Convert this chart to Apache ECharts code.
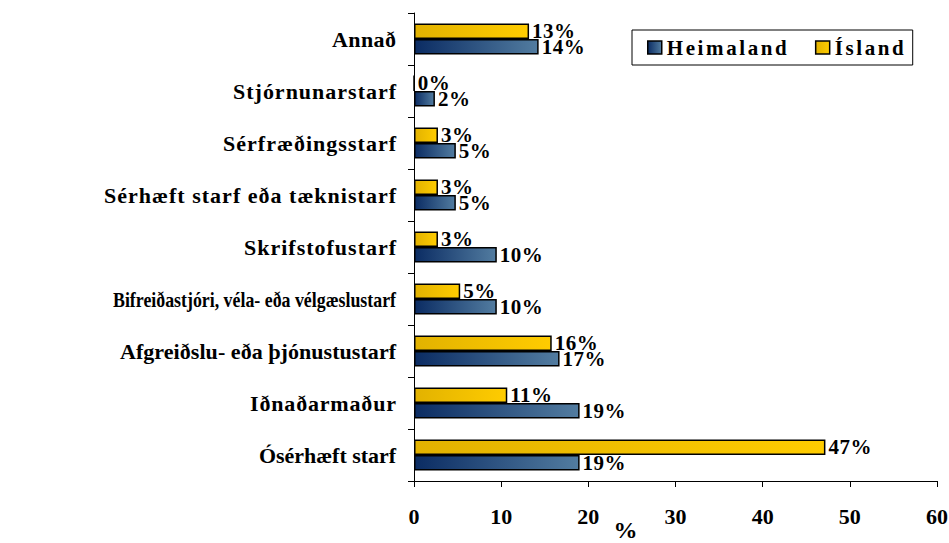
<!DOCTYPE html>
<html><head><meta charset="utf-8">
<script src="https://cdn.jsdelivr.net/npm/echarts@6/dist/echarts.min.js"></script>
<style>html,body{margin:0;padding:0;background:#fff}#c{width:949px;height:543px}</style>
</head><body><div id="c"></div>
<script>
const categories = ['Ósérhæft starf','Iðnaðarmaður','Afgreiðslu- eða þjónustustarf','Bifreiðastjóri, véla- eða vélgæslustarf','Skrifstofustarf','Sérhæft starf eða tæknistarf','Sérfræðingsstarf','Stjórnunarstarf','Annað'];
const heimaland = [19.0, 19.0, 16.7, 9.5, 9.5, 4.8, 4.8, 2.4, 14.3];
const island = [47.2, 10.7, 15.8, 5.3, 2.75, 2.75, 2.75, 0, 13.2];
const xTicks = [0,10,20,30,40,50,60];

// text widths in the reference (styling only)
const textWidths = {
  'Ósérhæft starf':137,'Iðnaðarmaður':146,'Afgreiðslu- eða þjónustustarf':276,
  'Bifreiðastjóri, véla- eða vélgæslustarf':283,'Skrifstofustarf':152,
  'Sérhæft starf eða tæknistarf':292,'Sérfræðingsstarf':173,'Stjórnunarstarf':163,'Annað':64,
  'Heimaland':120,'Ísland':69
};

const font = 'Liberation Serif';
const blueGrad = new echarts.graphic.LinearGradient(0,0,1,0,[{offset:0,color:'#0b2c63'},{offset:1,color:'#527ca0'}]);
const yellowGrad = new echarts.graphic.LinearGradient(0,0,1,0,[{offset:0,color:'#e2b200'},{offset:1,color:'#ffcc00'}]);
const lbl = {show:true,position:'right',distance:3,color:'#000',fontFamily:font,fontWeight:'bold',fontSize:21,formatter:p=>Math.round(p.value)+'%'};

const chart = echarts.init(document.getElementById('c'), null, {renderer:'svg'});
chart.setOption({
  animation:false,
  grid:{left:414,right:12,top:13,bottom:62,outerBoundsMode:'none',containLabel:false},
  legend:{
    left:632,top:30,padding:[7,22,7,15],
    backgroundColor:'#fff',borderColor:'#000',borderWidth:1,borderRadius:0,
    itemWidth:14,itemHeight:13,itemGap:49,
    textStyle:{fontFamily:font,fontWeight:'bold',fontSize:21,color:'#000'},
    data:[{name:'Heimaland',icon:'rect',itemStyle:{color:blueGrad,borderColor:'#000',borderWidth:1.5}},
          {name:'Ísland',icon:'rect',itemStyle:{color:yellowGrad,borderColor:'#000',borderWidth:1.5}}]
  },
  xAxis:{
    type:'value',min:0,max:60,interval:10,
    name:'%',nameLocation:'middle',nameGap:37,nameMoveOverlap:false,
    nameTextStyle:{fontFamily:font,fontWeight:'bold',fontSize:24,color:'#000',padding:[0,100,0,0]},
    axisLine:{show:true,lineStyle:{color:'#000',width:1}},
    axisTick:{show:true,length:6,lineStyle:{color:'#000'}},
    splitLine:{show:false},
    axisLabel:{margin:24,fontFamily:font,fontWeight:'bold',fontSize:22,color:'#000',formatter:v=>xTicks.includes(v)?String(v):''}
  },
  yAxis:{
    type:'category',data:categories,
    axisLine:{show:true,lineStyle:{color:'#000',width:1}},
    axisTick:{show:true,length:6,lineStyle:{color:'#000'}},
    axisLabel:{margin:18,fontFamily:font,fontWeight:'bold',fontSize:22,color:'#000',padding:[0,0,4,0]}
  },
  series:[
    {name:'Ísland',type:'bar',data:island,barGap:'0%',barCategoryGap:'40%',
     itemStyle:{color:yellowGrad,borderColor:'#000',borderWidth:1.5},label:lbl},
    {name:'Heimaland',type:'bar',data:heimaland,barGap:'0%',barCategoryGap:'40%',
     itemStyle:{color:blueGrad,borderColor:'#000',borderWidth:1.5},label:lbl}
  ]
});
function adjustText(){
  document.querySelectorAll('#c text').forEach(t=>{
    const s=t.textContent;
    if(textWidths[s]){
      t.setAttribute('textLength',textWidths[s]);
      const natural=t.getComputedTextLength ? t.getComputedTextLength() : 0;
      t.setAttribute('lengthAdjust', textWidths[s]<natural ? 'spacingAndGlyphs' : 'spacing');
    } else if(/^\d+%$/.test(s)) t.style.letterSpacing='0.5px';
  });
}
adjustText();
chart.on('finished',adjustText);
</script></body></html>
